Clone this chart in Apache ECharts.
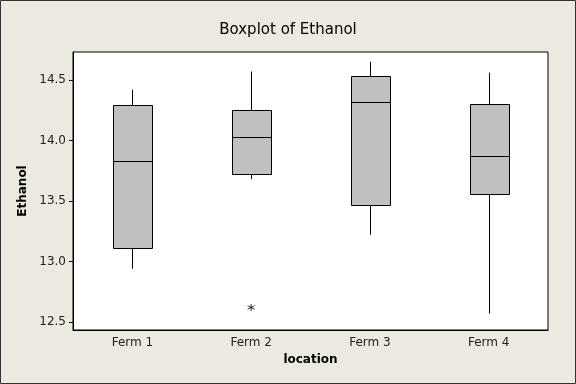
<!DOCTYPE html>
<html>
<head>
<meta charset="utf-8">
<script src="https://cdn.jsdelivr.net/npm/echarts@6/dist/echarts.min.js"></script>
<style>html,body{margin:0;padding:0;background:#ECE9E0;}#c{width:576px;height:384px;}</style>
</head>
<body>
<div id="c"></div>
<script>
const categories = ['Ferm 1', 'Ferm 2', 'Ferm 3', 'Ferm 4'];
// [lower whisker, Q1, median, Q3, upper whisker]
const boxValues = [
  [12.94, 13.11, 13.83, 14.29, 14.42],
  [13.68, 13.72, 14.03, 14.25, 14.57],
  [13.22, 13.47, 14.32, 14.53, 14.65],
  [12.57, 13.56, 13.87, 14.30, 14.56]
];
const outliers = [[1, 12.62]];
const yTicks = [12.5, 13.0, 13.5, 14.0, 14.5];

const chart = echarts.init(document.getElementById('c'), null, {renderer: 'canvas'});
const font = 'Tahoma, "DejaVu Sans", Verdana, sans-serif';

const boxData = boxValues.map((v, i) => [i].concat(v));

chart.setOption({
  backgroundColor: '#ECE9E0',
  animation: false,
  title: {
    text: 'Boxplot of Ethanol', left: 'center', top: 18,
    textStyle: {fontFamily: font, fontSize: 15, fontWeight: 'normal', color: '#000'}
  },
  grid: {left: 73, right: 28, top: 52, bottom: 54, show: true, backgroundColor: '#fff', borderColor: '#000', borderWidth: 1},
  xAxis: {
    type: 'category', data: categories, boundaryGap: true,
    name: 'location', nameLocation: 'middle', nameGap: 24,
    nameTextStyle: {fontFamily: font, fontSize: 12, fontWeight: 'bold', color: '#000'},
    axisLine: {lineStyle: {color: '#000', width: 1}},
    axisTick: {alignWithLabel: true, length: 4, lineStyle: {color: '#000'}},
    axisLabel: {fontFamily: font, fontSize: 12, color: '#222', margin: 7},
    splitLine: {show: false}
  },
  yAxis: {
    type: 'value', min: 12.434, max: 14.731,
    name: 'Ethanol', nameLocation: 'middle', nameGap: 44, nameRotate: 90,
    nameTextStyle: {fontFamily: font, fontSize: 12, fontWeight: 'bold', color: '#000'},
    axisLine: {show: true, lineStyle: {color: '#000', width: 1}},
    axisTick: {show: true, length: 4, lineStyle: {color: '#000'}, customValues: yTicks},
    axisLabel: {fontFamily: font, fontSize: 12, color: '#222', margin: 7, customValues: yTicks,
      formatter: v => v.toFixed(1)},
    splitLine: {show: false}
  },
  series: [
    {
      type: 'custom',
      data: boxData,
      renderItem: function (params, api) {
        const x = api.value(0);
        const lo = api.coord([x, api.value(1)]);
        const q1 = api.coord([x, api.value(2)]);
        const md = api.coord([x, api.value(3)]);
        const q3 = api.coord([x, api.value(4)]);
        const hi = api.coord([x, api.value(5)]);
        const w = api.size([1, 0])[0] * 0.33;
        const cx = Math.round(lo[0]) + 0.5;
        const left = Math.round(cx - w / 2) + 0.5;
        const right = Math.round(cx + w / 2) + 0.5;
        const ls = {stroke: '#000', lineWidth: 1};
        return {
          type: 'group',
          children: [
            {type: 'line', shape: {x1: cx, y1: q3[1], x2: cx, y2: hi[1]}, style: ls},
            {type: 'line', shape: {x1: cx, y1: q1[1], x2: cx, y2: lo[1]}, style: ls},
            {type: 'rect', shape: {x: left, y: Math.round(q3[1]) + 0.5, width: right - left, height: Math.round(q1[1]) - Math.round(q3[1])},
              style: {fill: '#C0C0C0', stroke: '#000', lineWidth: 1}},
            {type: 'line', shape: {x1: left, y1: Math.round(md[1]) + 0.5, x2: right, y2: Math.round(md[1]) + 0.5}, style: ls}
          ]
        };
      },
      encode: {x: 0, y: [1, 2, 3, 4, 5]}
    },
    {
      type: 'scatter',
      data: outliers,
      symbol: 'path://M0,-1L0,1M-0.87,-0.5L0.87,0.5M-0.87,0.5L0.87,-0.5',
      symbolSize: 7,
      itemStyle: {color: 'none', borderColor: '#000', borderWidth: 1}
    }
  ],
  graphic: [
    {type: 'rect', shape: {x: 0.5, y: 0.5, width: 575, height: 383}, style: {fill: 'none', stroke: '#333', lineWidth: 1}, z: 100}
  ]
});
</script>
</body>
</html>
